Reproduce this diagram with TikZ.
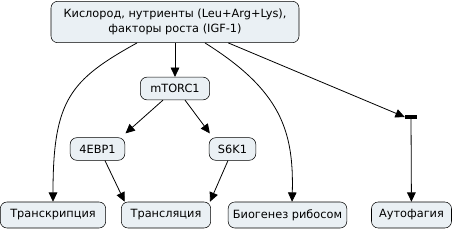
\documentclass[tikz,border=0pt]{standalone}
\usepackage{fontspec}
\setmainfont{DejaVu Sans}
\usetikzlibrary{arrows.meta}
\definecolor{boxfill}{RGB}{234,240,244}
\tikzset{
  box/.style={draw, fill=boxfill, rounded corners=5pt, align=center, inner sep=1pt, font=\fontsize{8.5}{10.8}\selectfont},
  arrow/.style={-{Triangle[length=7pt,width=6.5pt]}, semithick},
  bar/.style={fill=black, minimum width=9pt, minimum height=2.6pt, inner sep=0pt}
}
\begin{document}
\begin{tikzpicture}[x=0.75pt,y=-0.75pt]
  \useasboundingbox (0,0) rectangle (456,232);
  % source of signals
  \node[box, minimum width=186pt, minimum height=31pt] (src) at (175,22) {Кислород, нутриенты (Leu+Arg+Lys),\\факторы роста (IGF-1)};
  \node[box, minimum width=52pt, minimum height=17pt] (mtor) at (175,88.5) {mTORC1};
  \node[box, minimum width=41pt, minimum height=17pt] (ebp) at (97.5,149) {4EBP1};
  \node[box, minimum width=35pt, minimum height=17pt] (s6k) at (232.5,149) {S6K1};
  % processes
  \node[box, minimum width=79pt, minimum height=19.5pt] (trc) at (53,215) {Транскрипция};
  \node[box, minimum width=67pt, minimum height=19.5pt] (trl) at (166,215) {Трансляция};
  \node[box, minimum width=89pt, minimum height=19.5pt] (bio) at (287.5,215) {Биогенез рибосом};
  \node[box, minimum width=60pt, minimum height=19.5pt] (aut) at (411.5,215) {Аутофагия};
  \node[bar] (blk) at (411,117) {};
  \draw[arrow] (src) -- (mtor);
  \draw[arrow] ([xshift=-28.5pt]src.south) .. controls (70,80) and (53,100) .. ([xshift=0pt]trc.north);
  \draw[arrow] ([xshift=22.5pt]src.south) .. controls (280,90) and (294,130) .. ([xshift=3.4pt]bio.north);
  \draw[arrow] ([xshift=40pt]src.south) -- (blk.west);
  \draw[arrow] (blk) -- (aut);
  \draw[arrow] ([xshift=-9pt]mtor.south) -- ([xshift=21pt,yshift=3pt]ebp.north);
  \draw[arrow] ([xshift=7.5pt]mtor.south) -- ([xshift=-17pt,yshift=3pt]s6k.north);
  \draw[arrow] ([xshift=5.6pt]ebp.south) -- ([xshift=-31pt]trl.north);
  \draw[arrow] ([xshift=-3.4pt]s6k.south) -- ([xshift=33pt]trl.north);
\end{tikzpicture}
\end{document}
